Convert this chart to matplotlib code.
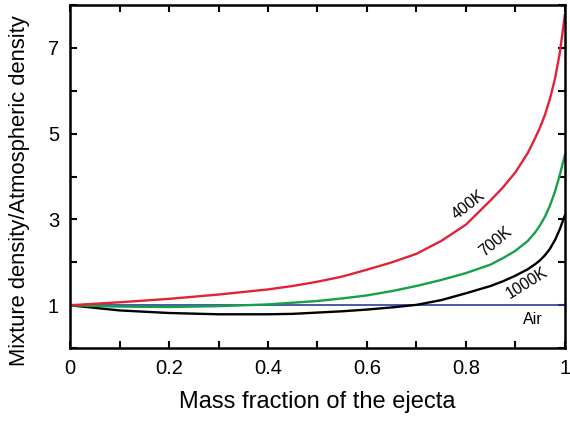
import matplotlib.pyplot as plt
import numpy as np

plt.rcParams['font.family'] = ['Liberation Sans', 'DejaVu Sans']

# mass fraction of ejecta and density ratio for each ejecta temperature
frac = [0.0, 0.1, 0.2, 0.3, 0.4, 0.45, 0.5, 0.55, 0.6, 0.65, 0.7, 0.75,
        0.8, 0.85, 0.875, 0.9, 0.925, 0.94, 0.95, 0.96, 0.97, 0.98, 0.99, 1.0]
rho_400 = [1.0, 1.07, 1.15, 1.25, 1.37, 1.45, 1.55, 1.67, 1.83, 2.0, 2.2, 2.5,
           2.88, 3.45, 3.75, 4.1, 4.55, 4.9, 5.15, 5.45, 5.82, 6.28, 6.9, 7.78]
rho_700 = [1.0, 0.97, 0.96, 0.98, 1.02, 1.06, 1.1, 1.16, 1.23, 1.33, 1.45, 1.59,
           1.75, 1.95, 2.1, 2.27, 2.5, 2.7, 2.87, 3.07, 3.33, 3.65, 4.05, 4.5]
rho_1000 = [1.0, 0.88, 0.82, 0.79, 0.79, 0.8, 0.83, 0.86, 0.9, 0.95, 1.01, 1.12,
            1.28, 1.45, 1.56, 1.69, 1.84, 1.96, 2.05, 2.17, 2.32, 2.52, 2.78, 3.1]
rho_air = [1.0] * len(frac)

fig = plt.figure(figsize=(5.7, 4.21), dpi=100)
ax = fig.add_axes([0.123, 0.173, 0.868, 0.815])

ax.plot(frac, rho_air, color='#2a3d9a', lw=1.2)
ax.plot(frac, rho_1000, color='black', lw=1.7)
ax.plot(frac, rho_700, color='#15a04a', lw=1.7)
ax.plot(frac, rho_400, color='#e3223a', lw=1.7)

ax.set_xlim(0, 1)
ax.set_ylim(0, 8)
ax.set_xticks(np.arange(0, 1.01, 0.1))
ax.set_xticklabels(['0', '', '0.2', '', '0.4', '', '0.6', '', '0.8', '', '1'])
ax.set_yticks(range(0, 9))
ax.set_yticklabels(['', '1', '', '3', '', '5', '', '7', ''])
ax.tick_params(direction='in', top=True, right=True, length=5, width=1.5,
               labelsize=14.5, pad=8)
for s in ax.spines.values():
    s.set_linewidth(1.8)

ax.set_xlabel('Mass fraction of the ejecta', fontsize=17, labelpad=9)
ax.set_ylabel('Mixture density/Atmospheric density', fontsize=15.8)
ax.yaxis.set_label_coords(-0.082, 0.46)

ax.text(0.806, 3.35, '400K', rotation=38, fontsize=11.5, ha='center', va='center')
ax.text(0.859, 2.49, '700K', rotation=40, fontsize=11.5, ha='center', va='center')
ax.text(0.923, 1.53, '1000K', rotation=32, fontsize=11.5, ha='center', va='center')
ax.text(0.935, 0.67, 'Air', fontsize=11.5, ha='center', va='center')

fig.savefig('out.png')
